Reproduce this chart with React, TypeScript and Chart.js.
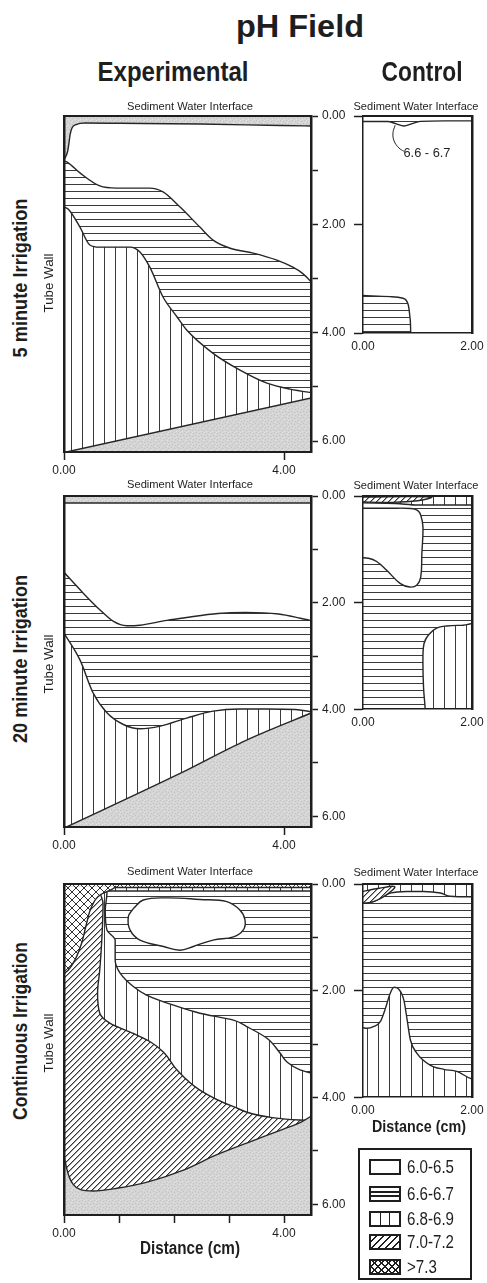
import React, { useEffect, useRef } from 'react';
import { Chart, registerables } from 'chart.js';

Chart.register(...registerables);

const FONT = "'Liberation Sans', Arial, Helvetica, sans-serif";
const INK = '#1e1e1e';
const LINE = '#262626';
const HATCH = '#3a3a3a';
const GRAY = '#d4d4d4';

// ---------- axis values ----------
const EXP_X_MAX = 4.49;
const EXP_Y_MAX = 6.2;
const CTL_X_MAX = 2;
const CTL_Y_MAX = 4;
const expYTicks = [0, 1, 2, 3, 4, 5, 6];
const expYLabels = [0, 2, 4, 6];
const expXTicksShort = [0, 4];
const expXTicksFull = [0, 1, 2, 3, 4];
const expXLabels = [0, 4];
const ctlYTicks = [0, 2, 4];
const ctlXTicks = [0, 2];
const ctlXLabels = [0, 2];

// ---------- 5 minute irrigation, experimental (x cm, depth cm) ----------
const exp5Background = [[-0.2, -0.2], [4.7, -0.2]];
const exp5Ph60Top = [[0, 0.81], [0.064, 0.66], [0.09, 0.5], [0.11, 0.35], [0.145, 0.22], [0.22, 0.157], [0.38, 0.13], [1.02, 0.135], [2.47, 0.148], [3.93, 0.175], [4.6, 0.185]];
const exp5Ph66Top = [[0, 0.83], [0.07, 0.86], [0.29, 1.05], [0.65, 1.29], [0.96, 1.33], [1.56, 1.33], [1.8, 1.4], [2.11, 1.68], [2.47, 2.05], [2.71, 2.29], [3.02, 2.44], [3.44, 2.53], [3.87, 2.66], [4.16, 2.79], [4.33, 2.9], [4.51, 3.08], [4.6, 3.2]];
const exp5Ph68Top = [[0, 1.68], [0.08, 1.72], [0.29, 2.05], [0.47, 2.38], [0.65, 2.42], [1.2, 2.42], [1.38, 2.51], [1.56, 2.79], [1.8, 3.34], [2.05, 3.7], [2.23, 3.95], [2.71, 4.38], [3.2, 4.69], [3.69, 4.93], [4.11, 5.04], [4.6, 5.12]];
const exp5GrayTop = [[0, 6.21], [4.6, 5.18]];

// ---------- 5 minute irrigation, control ----------
const ctl5Ph66Bottom = [[0, 3.31], [0.5, 3.33], [0.73, 3.36], [0.83, 3.48], [0.86, 3.7], [0.875, 3.98], [0.876, 4.1]];
const ctl5Ph66Lens = [[0, 0.1], [0.45, 0.1], [0.6, 0.14], [0.75, 0.185], [0.9, 0.14], [1.05, 0.1], [1.5, 0.09], [2.1, 0.09]];
const ctl5Leader = [[0.59, 0.17], [0.55, 0.31], [0.57, 0.46], [0.66, 0.59], [0.75, 0.65]];

// ---------- 20 minute irrigation, experimental ----------
const exp20GrayBand = [[-0.2, 0.13], [4.7, 0.13]];
const exp20Ph66Top = [[0, 1.43], [0.35, 1.82], [0.65, 2.13], [0.9, 2.35], [1.14, 2.43], [1.38, 2.42], [1.87, 2.33], [2.2, 2.28], [2.8, 2.2], [3.3, 2.18], [3.9, 2.21], [4.3, 2.29], [4.6, 2.36]];
const exp20Ph68Top = [[0, 2.57], [0.29, 3.07], [0.53, 3.69], [0.78, 4.06], [1.08, 4.28], [1.38, 4.36], [1.75, 4.31], [2.23, 4.16], [2.71, 4.03], [3.2, 3.99], [3.68, 3.99], [4.2, 4.0], [4.6, 4.06]];
const exp20GrayTop = [[0, 6.22], [2.1, 5.2], [3.3, 4.58], [4.6, 4.02]];

// ---------- 20 minute irrigation, control ----------
const ctl20Background = [[-0.2, -0.2], [2.2, -0.2]];
const ctl20Ph60 = [[-0.1, 0.23], [0.5, 0.23], [0.88, 0.235], [1.0, 0.27], [1.06, 0.36], [1.1, 0.58], [1.08, 1.08], [1.06, 1.52], [0.99, 1.67], [0.86, 1.71], [0.68, 1.64], [0.43, 1.39], [0.25, 1.23], [0.1, 1.17], [-0.1, 1.16]];
const ctl20Ph68 = [[1.15, 4.3], [1.14, 3.99], [1.11, 3.58], [1.1, 3.02], [1.12, 2.77], [1.2, 2.61], [1.35, 2.48], [1.54, 2.44], [1.8, 2.43], [2.3, 2.43], [2.4, 4.3]];
const ctl20Ph68Band = [[0, 0.13], [0.6, 0.14], [1.0, 0.17], [2.1, 0.17]];
const ctl20Ph70Lens = [[-0.1, 0.02], [1.25, 0.02], [1.0, 0.09], [0.5, 0.12], [-0.1, 0.11]];

// ---------- continuous irrigation, experimental ----------
const expCBackground = [[-0.2, -0.2], [4.7, -0.2]];
const expCPh68Edge = [[0.65, 0], [0.66, 0.17], [0.71, 0.36], [0.69, 0.99], [0.65, 1.61], [0.61, 2.04], [0.65, 2.42], [0.84, 2.61], [1.26, 2.8], [1.56, 2.95], [1.81, 3.15], [2.05, 3.48], [2.47, 3.86], [3.08, 4.17], [3.69, 4.36], [4.29, 4.42], [4.6, 4.43]];
const expCPh66Edge = [[0.78, 0], [0.78, 0.17], [0.75, 0.49], [0.78, 0.86], [0.93, 1.05], [0.93, 1.42], [1.02, 1.67], [1.26, 1.92], [1.5, 2.08], [1.99, 2.27], [2.47, 2.42], [3.08, 2.55], [3.32, 2.67], [3.69, 2.89], [3.93, 3.17], [4.05, 3.33], [4.29, 3.48], [4.6, 3.57]];
const expCGrayTop = [[0, 5.1], [0.05, 5.33], [0.1, 5.5], [0.17, 5.63], [0.29, 5.72], [0.53, 5.75], [0.96, 5.7], [1.56, 5.57], [2.17, 5.36], [2.78, 5.07], [3.38, 4.83], [3.99, 4.59], [4.29, 4.47], [4.6, 4.28]];
const expCPh60Pocket = [[1.26, 0.46], [1.44, 0.3], [1.87, 0.26], [2.47, 0.29], [2.96, 0.33], [3.2, 0.49], [3.29, 0.67], [3.26, 0.86], [3.08, 0.99], [2.71, 1.05], [2.35, 1.17], [2.11, 1.24], [1.81, 1.17], [1.38, 1.05], [1.2, 0.86], [1.17, 0.61], [1.26, 0.46]];
const expCPh68Band = [[-0.2, 0.13], [4.7, 0.13]];
const expCPh73Strip = [[-0.2, 0.065], [4.7, 0.065]];
const expCPh73Corner = [[0.95, 0.04], [0.87, 0.1], [0.65, 0.21], [0.5, 0.43], [0.41, 0.74], [0.32, 1.11], [0.2, 1.42], [0.08, 1.61], [0, 1.68]];

// ---------- continuous irrigation, control ----------
const ctlCBackground = [[-0.2, -0.2], [2.2, -0.2]];
const ctlCPh68Top = [[0, 2.7], [0.07, 2.71], [0.19, 2.68], [0.32, 2.58], [0.41, 2.34], [0.5, 2.05], [0.57, 1.94], [0.65, 1.97], [0.75, 2.18], [0.81, 2.55], [0.87, 2.93], [0.99, 3.18], [1.23, 3.4], [1.48, 3.48], [1.72, 3.52], [1.97, 3.65], [2.1, 3.68]];
const ctlCPh68Band = [[0, 0.36], [0.19, 0.33], [0.35, 0.24], [0.5, 0.17], [0.8, 0.14], [1.11, 0.14], [1.42, 0.17], [1.6, 0.23], [1.97, 0.24], [2.1, 0.24]];
const ctlCPh70Lens = [[-0.1, 0.16], [0.3, 0.08], [0.58, 0.05], [0.45, 0.19], [0.19, 0.33], [-0.1, 0.37]];

// ---------- legend ----------
const legendLabels = ['6.0-6.5', '6.6-6.7', '6.8-6.9', '7.0-7.2', '>7.3'];
const legendKinds = ['white', 'horiz', 'vert', 'diag', 'cross'];

type Mode = 'down' | 'up' | 'right' | 'left' | 'shape' | 'line';
type Layer = { data: number[][]; fill: string | null; mode: Mode; stroke: boolean };
const L = (data: number[][], mode: Mode, fill: string | null, stroke = true): Layer => ({ data, mode, fill, stroke });

let mctx: any = null;
function measure(text: string, font: string) {
  if (!mctx) mctx = document.createElement('canvas').getContext('2d');
  mctx.font = font;
  return mctx.measureText(text).width;
}

function makePatterns(ctx: CanvasRenderingContext2D) {
  const tile = (w: number, h: number, draw: (c: CanvasRenderingContext2D) => void) => {
    const cv = document.createElement('canvas');
    cv.width = w;
    cv.height = h;
    const c = cv.getContext('2d') as CanvasRenderingContext2D;
    c.fillStyle = '#ffffff';
    c.fillRect(0, 0, w, h);
    draw(c);
    return ctx.createPattern(cv, 'repeat');
  };
  return {
    white: '#ffffff',
    gray: tile(6, 6, (c) => {
      c.fillStyle = GRAY;
      c.fillRect(0, 0, 6, 6);
      c.fillStyle = '#c2c2c2';
      [[1, 1], [4, 2], [2, 4], [5, 5]].forEach(([x, y]) => c.fillRect(x, y, 1, 1));
      c.fillStyle = '#e4e4e4';
      [[3, 0], [0, 3], [4, 4]].forEach(([x, y]) => c.fillRect(x, y, 1, 1));
    }),
    horiz: tile(1, 7, (c) => {
      c.fillStyle = HATCH;
      c.fillRect(0, 3, 1, 1);
    }),
    vert: tile(11, 1, (c) => {
      c.fillStyle = HATCH;
      c.fillRect(5, 0, 1, 1);
    }),
    diag: tile(6, 6, (c) => {
      c.fillStyle = '#333333';
      for (let i = 0; i < 6; i++) c.fillRect(i, 5 - i, 1, 1);
      c.fillStyle = '#a0a0a0';
      for (let i = 0; i < 6; i++) c.fillRect(i, (6 - i) % 6, 1, 1);
    }),
    cross: tile(8, 8, (c) => {
      c.fillStyle = '#333333';
      for (let i = 0; i < 8; i++) {
        c.fillRect(i, i, 1, 1);
        c.fillRect(i, 7 - i, 1, 1);
      }
    }),
  } as any;
}

const tickFont = { family: FONT, size: 12 };

function bareAxis(axis: string, pos: string, max: number, reverse: boolean, width: number) {
  return {
    type: 'linear', axis, position: pos, min: 0, max, reverse,
    ticks: { display: false },
    grid: { display: true, drawOnChartArea: false, drawTicks: false },
    border: { display: true, color: INK, width, z: 1 },
    afterFit: (s: any) => {
      if (axis === 'y') s.width = 0;
      else s.height = 0;
    },
  };
}

function expScales(xTicks: number[]) {
  return {
    x: {
      type: 'linear', axis: 'x', position: 'bottom', min: 0, max: EXP_X_MAX,
      afterBuildTicks: (s: any) => { s.ticks = xTicks.map((v) => ({ value: v })); },
      afterFit: (s: any) => { s.height = 30; },
      ticks: {
        autoSkip: false, maxRotation: 0, minRotation: 0, padding: 3, color: INK, font: tickFont,
        callback: (v: any) => (expXLabels.indexOf(Number(v)) >= 0 ? Number(v).toFixed(2) : ''),
      },
      grid: { display: true, drawOnChartArea: false, drawTicks: true, tickLength: 8, tickWidth: 1.5, tickColor: INK, color: INK },
      border: { display: true, color: INK, width: 2, z: 1 },
    },
    y: {
      type: 'linear', axis: 'y', position: 'right', min: 0, max: EXP_Y_MAX, reverse: true,
      afterBuildTicks: (s: any) => { s.ticks = expYTicks.map((v) => ({ value: v })); },
      afterFit: (s: any) => { s.width = 48; },
      ticks: {
        autoSkip: false, padding: 4, color: INK, font: tickFont,
        callback: (v: any) => (expYLabels.indexOf(Number(v)) >= 0 ? Number(v).toFixed(2) : ''),
      },
      grid: { display: true, drawOnChartArea: false, drawTicks: true, tickLength: 7, tickWidth: 1.5, tickColor: INK, color: INK },
      border: { display: true, color: INK, width: 2.5, z: 1 },
    },
    xt: bareAxis('x', 'top', EXP_X_MAX, false, 2),
    yl: bareAxis('y', 'left', EXP_Y_MAX, true, 2.5),
  };
}

function ctlScales() {
  return {
    x: {
      type: 'linear', axis: 'x', position: 'bottom', min: 0, max: CTL_X_MAX,
      afterBuildTicks: (s: any) => { s.ticks = ctlXTicks.map((v) => ({ value: v })); },
      afterFit: (s: any) => { s.height = 22; },
      ticks: {
        autoSkip: false, maxRotation: 0, minRotation: 0, padding: 0, color: INK, font: tickFont,
        callback: (v: any) => (ctlXLabels.indexOf(Number(v)) >= 0 ? Number(v).toFixed(2) : ''),
      },
      grid: { display: true, drawOnChartArea: false, drawTicks: true, tickLength: 6, tickColor: 'rgba(0,0,0,0)', color: 'rgba(0,0,0,0)' },
      border: { display: true, color: INK, width: 1.5, z: 1 },
    },
    y: {
      type: 'linear', axis: 'y', position: 'left', min: 0, max: CTL_Y_MAX, reverse: true,
      afterBuildTicks: (s: any) => { s.ticks = ctlYTicks.map((v) => ({ value: v })); },
      afterFit: (s: any) => { s.width = 10; },
      ticks: { autoSkip: false, padding: 0, font: tickFont, callback: () => '' },
      grid: { display: true, drawOnChartArea: false, drawTicks: true, tickLength: 9, tickWidth: 1.5, tickColor: INK, color: INK },
      border: { display: true, color: INK, width: 1.5, z: 1 },
    },
    xt: bareAxis('x', 'top', CTL_X_MAX, false, 2),
    yr: bareAxis('y', 'right', CTL_Y_MAX, true, 2.5),
  };
}

type Spec = { canvas: any; padding: any; scales: any; layers: Layer[]; xMax: number; yMax: number };

function expPanel(top: number, bottom: number, xTicks: number[], layers: Layer[]): Spec {
  return {
    canvas: { left: 44, top: top - 12, width: 316, height: bottom - top + 12 + 34 },
    padding: { left: 64 - 44, right: 360 - 311 - 48, top: 12, bottom: 4 },
    scales: expScales(xTicks), layers, xMax: EXP_X_MAX, yMax: EXP_Y_MAX,
  };
}

function ctlPanel(top: number, bottom: number, layers: Layer[]): Spec {
  return {
    canvas: { left: 340, top: top - 12, width: 147, height: bottom - top + 12 + 26 },
    padding: { left: 363 - 340 - 10, right: 487 - 472, top: 12, bottom: 4 },
    scales: ctlScales(), layers, xMax: CTL_X_MAX, yMax: CTL_Y_MAX,
  };
}

const PANELS: Spec[] = [
  expPanel(116, 452, expXTicksShort, [
    L(exp5Background, 'down', 'gray', false),
    L(exp5Ph60Top, 'down', 'white'),
    L(exp5Ph66Top, 'down', 'horiz'),
    L(exp5Ph68Top, 'down', 'vert'),
    L(exp5GrayTop, 'down', 'gray'),
  ]),
  ctlPanel(116, 333, [
    L(ctl5Ph66Bottom, 'down', 'horiz'),
    L(ctl5Ph66Lens, 'up', 'horiz'),
    L(ctl5Leader, 'line', null),
  ]),
  expPanel(496, 827, expXTicksShort, [
    L(exp20GrayBand, 'up', 'gray'),
    L(exp20Ph66Top, 'down', 'horiz'),
    L(exp20Ph68Top, 'down', 'vert'),
    L(exp20GrayTop, 'down', 'gray'),
  ]),
  ctlPanel(496, 709, [
    L(ctl20Background, 'down', 'horiz', false),
    L(ctl20Ph60, 'shape', 'white'),
    L(ctl20Ph68, 'shape', 'vert'),
    L(ctl20Ph68Band, 'up', 'vert'),
    L(ctl20Ph70Lens, 'shape', 'diag'),
  ]),
  expPanel(884, 1215, expXTicksFull, [
    L(expCBackground, 'down', 'diag', false),
    L(expCPh68Edge, 'right', 'vert'),
    L(expCPh66Edge, 'right', 'horiz'),
    L(expCGrayTop, 'down', 'gray'),
    L(expCPh60Pocket, 'shape', 'white'),
    L(expCPh68Band, 'up', 'vert'),
    L(expCPh73Strip, 'up', 'cross'),
    L(expCPh73Corner, 'left', 'cross'),
  ]),
  ctlPanel(884, 1097, [
    L(ctlCBackground, 'down', 'horiz', false),
    L(ctlCPh68Top, 'down', 'vert'),
    L(ctlCPh68Band, 'up', 'vert'),
    L(ctlCPh70Lens, 'shape', 'diag'),
  ]),
];

function Panel({ spec }: { spec: Spec }) {
  const ref = useRef<HTMLCanvasElement>(null);
  useEffect(() => {
    const canvas = ref.current as HTMLCanvasElement;
    const ctx = canvas.getContext('2d') as CanvasRenderingContext2D;
    const pats = makePatterns(ctx);
    const n = spec.layers.length;
    const datasets = spec.layers.map((ly, i) => {
      const yIdx = ly.mode === 'right' || ly.mode === 'left';
      let fill: any = false;
      if (ly.mode === 'down') fill = { value: spec.yMax + 0.5 };
      else if (ly.mode === 'up') fill = { value: -0.5 };
      else if (ly.mode === 'right') fill = { value: spec.xMax + 0.5 };
      else if (ly.mode === 'left') fill = { value: -0.5 };
      else if (ly.mode === 'shape') fill = 'shape';
      const smoothFree = ly.mode === 'shape' || ly.mode === 'line';
      return {
        data: ly.data.map(([x, y]) => ({ x, y })),
        xAxisID: 'x',
        yAxisID: 'y',
        indexAxis: yIdx ? 'y' : 'x',
        fill,
        backgroundColor: ly.fill ? pats[ly.fill] : 'rgba(0,0,0,0)',
        borderColor: ly.stroke ? LINE : 'rgba(0,0,0,0)',
        borderWidth: ly.stroke ? (ly.mode === 'line' ? 1 : 1.4) : 0,
        pointRadius: 0,
        pointHoverRadius: 0,
        pointHitRadius: 0,
        tension: 0.4,
        cubicInterpolationMode: smoothFree ? 'default' : 'monotone',
        capBezierPoints: false,
        order: n - i,
      };
    });
    const chart = new Chart(canvas, {
      type: 'line',
      data: { datasets } as any,
      options: {
        animation: false,
        responsive: false,
        devicePixelRatio: 1,
        events: [],
        layout: { padding: spec.padding },
        plugins: { legend: { display: false }, tooltip: { enabled: false }, title: { display: false } },
        scales: spec.scales,
      } as any,
    });
    return () => chart.destroy();
  }, [spec]);
  const c = spec.canvas;
  return (
    <canvas
      ref={ref}
      width={c.width}
      height={c.height}
      style={{ position: 'absolute', left: c.left, top: c.top, width: c.width, height: c.height }}
    />
  );
}

function Txt({ t, x, y, size, bold, w, k, rot, left }: any) {
  const font = `${bold ? 'bold ' : ''}${size}px ${FONT}`;
  const nat = measure(t, font);
  const s = k ? k : w ? w / nat : 1;
  const style: any = {
    position: 'absolute', left: x, top: y, whiteSpace: 'nowrap', font, lineHeight: `${size}px`,
    height: size, color: INK,
  };
  if (left) {
    style.transformOrigin = '0 50%';
    style.transform = `translateY(-50%) scaleX(${s})`;
  } else {
    style.transform = `translate(-50%, -50%) ${rot ? 'rotate(-90deg) ' : ''}scaleX(${s})`;
  }
  return <div style={style}>{t}</div>;
}

function Swatch({ kind, cy }: any) {
  const base: any = {
    position: 'absolute', left: 369, top: cy - 8, width: 32, height: 16, boxSizing: 'border-box',
    border: `2px solid ${INK}`, backgroundColor: '#fff', overflow: 'hidden',
  };
  const bar = (st: any) => <div style={{ position: 'absolute', background: INK, ...st }} />;
  let inner: any = null;
  if (kind === 'horiz') inner = (<>{bar({ left: 0, right: 0, top: 3.2, height: 1.6 })}{bar({ left: 0, right: 0, top: 7.2, height: 1.6 })}</>);
  if (kind === 'vert') inner = (<>{bar({ top: 0, bottom: 0, left: 8.5, width: 1.6 })}{bar({ top: 0, bottom: 0, left: 17.8, width: 1.6 })}</>);
  if (kind === 'diag') base.backgroundImage = `repeating-linear-gradient(-45deg, #fff 0px, #fff 3.6px, ${INK} 3.6px, ${INK} 5px)`;
  if (kind === 'cross') base.backgroundImage = `repeating-linear-gradient(45deg, rgba(0,0,0,0) 0px, rgba(0,0,0,0) 3.6px, ${INK} 3.6px, ${INK} 5px), repeating-linear-gradient(-45deg, rgba(0,0,0,0) 0px, rgba(0,0,0,0) 3.6px, ${INK} 3.6px, ${INK} 5px)`;
  return <div style={base}>{inner}</div>;
}

function Legend() {
  const cys = [1166.7, 1194.2, 1218.7, 1242, 1266.7];
  const k = 47 / measure('6.0-6.5', `18px ${FONT}`);
  return (
    <>
      <div style={{ position: 'absolute', left: 358, top: 1148, width: 114, height: 132, boxSizing: 'border-box', border: `2px solid ${INK}` }} />
      {legendLabels.map((lab, i) => (
        <React.Fragment key={lab}>
          <Swatch kind={legendKinds[i]} cy={cys[i]} />
          <Txt t={lab} x={406.5} y={cys[i]} size={18} k={k} left />
        </React.Fragment>
      ))}
    </>
  );
}

export default function App() {
  const swiExp = [105.8, 484, 871];
  const swiCtl = [105.8, 484.5, 872];
  const rows = ['5 minute Irrigation', '20 minute Irrigation', 'Continuous Irrigation'];
  const rowCy = [277.5, 659, 1031];
  const rowW = [159, 168, 178];
  const tubeCy = [282.5, 664, 1043];
  return (
    <div style={{ position: 'absolute', left: 0, top: 0, width: 487, height: 1283, background: '#fff', overflow: 'hidden' }}>
      {PANELS.map((p, i) => <Panel key={i} spec={p} />)}
      <Txt t="pH Field" x={299.5} y={26.2} size={31} bold w={128} />
      <Txt t="Experimental" x={172.5} y={71.7} size={28} bold w={151} />
      <Txt t="Control" x={421.5} y={71.7} size={28} bold w={81} />
      {swiExp.map((y, i) => <Txt key={'se' + i} t="Sediment Water Interface" x={190} y={y} size={11} w={126} />)}
      {swiCtl.map((y, i) => <Txt key={'sc' + i} t="Sediment Water Interface" x={415.5} y={y} size={11} w={125} />)}
      {rows.map((r, i) => <Txt key={r} t={r} x={20.5} y={rowCy[i]} size={19.5} bold w={rowW[i]} rot />)}
      {tubeCy.map((y, i) => <Txt key={'tw' + i} t="Tube Wall" x={48} y={y} size={13} w={59} rot />)}
      <Txt t="6.6 - 6.7" x={426.5} y={153} size={12.5} w={47} />
      <Txt t="Distance (cm)" x={190} y={1248} size={18} bold w={100} />
      <Txt t="Distance (cm)" x={419} y={1125.5} size={17} bold w={94} />
      <Legend />
    </div>
  );
}
